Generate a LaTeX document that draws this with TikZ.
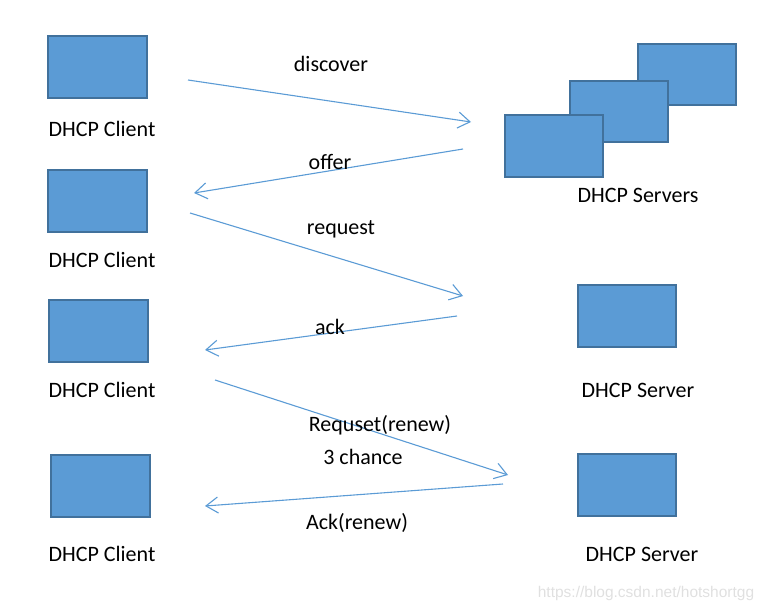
\documentclass[tikz,border=0pt]{standalone}
\usepackage{fontspec}
\setmainfont{Carlito}
\newfontfamily\wmfont{Liberation Sans}
\usetikzlibrary{arrows.meta}
\definecolor{boxfill}{HTML}{5B9BD5}
\definecolor{boxline}{HTML}{41719C}
\definecolor{arr}{HTML}{5B9BD5}
\begin{document}
\begin{tikzpicture}[x=1pt,y=-1pt,
  hostbox/.style={draw=boxline,fill=boxfill,line width=1.8pt},
  lbl/.style={font=\fontsize{22}{26}\selectfont,inner sep=0pt,anchor=center},
  msg/.style={draw=arr,line width=1.1pt,-{Straight Barb[length=12pt,width=16pt,line width=1.1pt]}}]
\useasboundingbox (0,0) rectangle (761,610);
% clients
\draw[hostbox] (48,36) rectangle (147,98);
\draw[hostbox] (48,170) rectangle (147,232);
\draw[hostbox] (49,300) rectangle (148,362);
\draw[hostbox] (51,455) rectangle (150,517);
\node[lbl] (c1) at (102,129) {DHCP Client};
\node[lbl] (c2) at (102,260) {DHCP Client};
\node[lbl] (c3) at (102,390) {DHCP Client};
\node[lbl] (c4) at (102,554) {DHCP Client};
% servers
\draw[hostbox] (638,44) rectangle (736,105);
\draw[hostbox] (570,81) rectangle (668,142);
\draw[hostbox] (505,115) rectangle (603,177);
\draw[hostbox] (578,285) rectangle (676,347);
\draw[hostbox] (578,454) rectangle (676,516);
\node[lbl] (s1) at (638,195) {DHCP Servers};
\node[lbl] (s2) at (638,390) {DHCP Server};
\node[lbl] (s3) at (642,554) {DHCP Server};
% message endpoints
\coordinate (a1s) at (188,80);  \coordinate (a1e) at (471,122);
\coordinate (a2s) at (463,149); \coordinate (a2e) at (194,193);
\coordinate (a3s) at (190,213); \coordinate (a3e) at (463,296);
\coordinate (a4s) at (457,316); \coordinate (a4e) at (205,350);
\coordinate (a5s) at (215,380); \coordinate (a5e) at (508,475);
\coordinate (a6s) at (503,484); \coordinate (a6e) at (205,506);
\draw[msg] (a1s) -- (a1e);
\draw[msg] (a2s) -- (a2e);
\draw[msg] (a3s) -- (a3e);
\draw[msg] (a4s) -- (a4e);
\draw[msg] (a5s) -- (a5e);
\draw[msg] (a6s) -- (a6e);
% labels
\node[lbl] (m1) at (331,64) {discover};
\node[lbl] (m2) at (330,162) {offer};
\node[lbl] (m3) at (341,229) {request};
\node[lbl] (m4) at (330,327) {ack};
\node[lbl] (m5) at (380,425) {Requset(renew)};
\node[lbl] (m6) at (363,457) {3 chance};
\node[lbl] (m7) at (357,523) {Ack(renew)};
\node[inner sep=0pt,text=black!12,font=\wmfont\fontsize{15.5}{18}\selectfont] (wm) at (646,593) {https://blog.csdn.net/hotshortgg};
\end{tikzpicture}
\end{document}
